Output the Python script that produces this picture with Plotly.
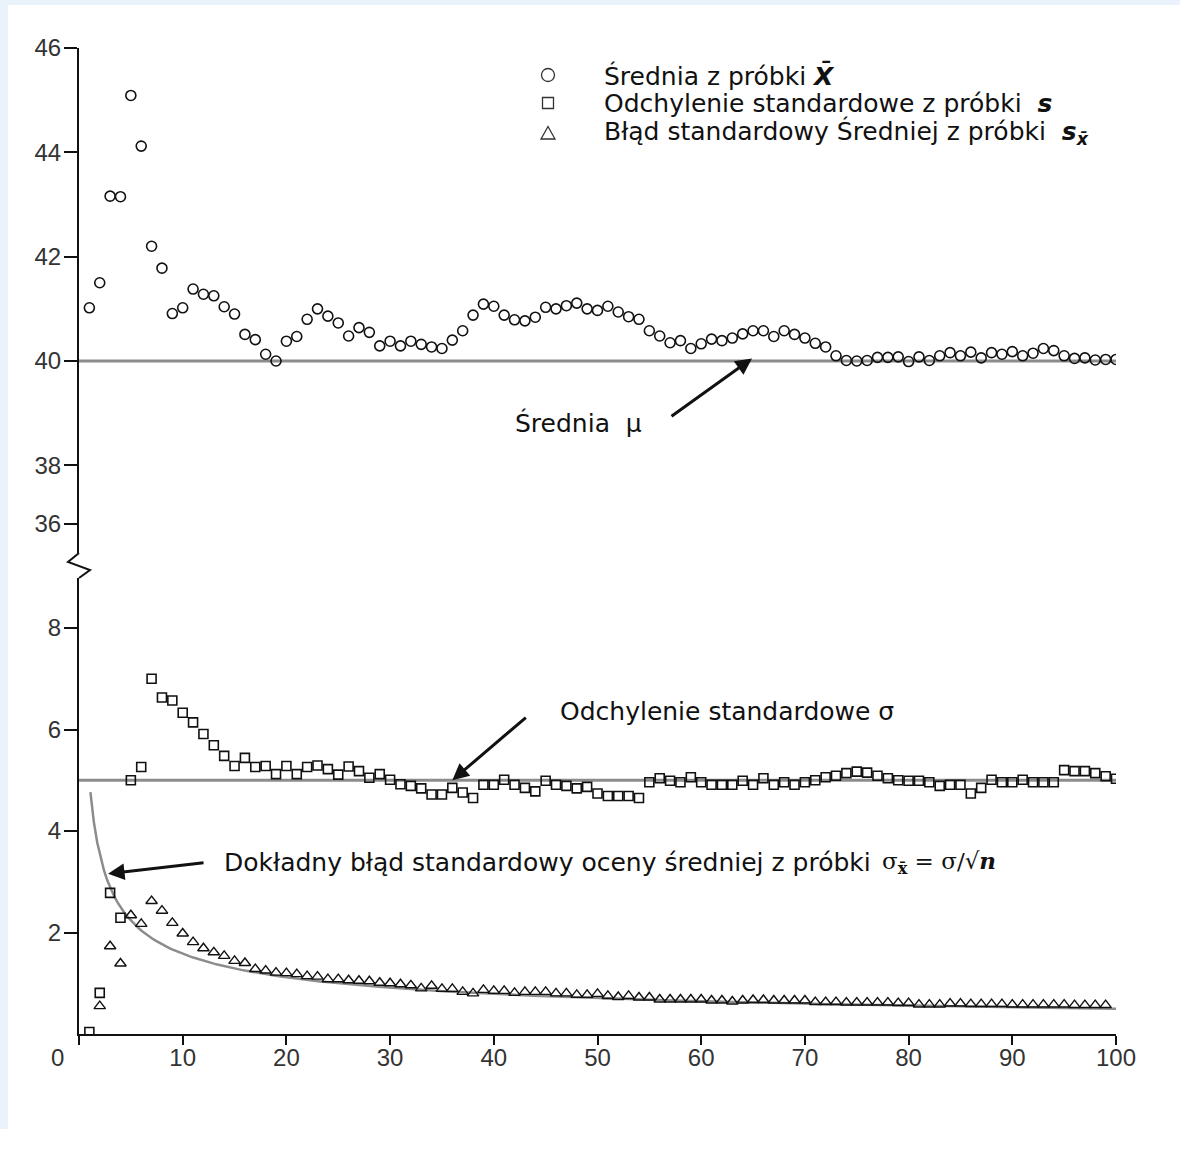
import plotly.graph_objects as go
import numpy as np

# sample size n
n_mean = list(range(1, 101))
n_sd = list(range(1, 101))
n_se = list(range(2, 101))

# sample mean X-bar for n = 1..100
mean_vals = [
    41.02, 41.50, 43.16, 43.15, 45.09, 44.12, 42.20, 41.78, 40.91, 41.02,
    41.38, 41.28, 41.25, 41.04, 40.90, 40.51, 40.41, 40.13, 40.00, 40.38,
    40.47, 40.80, 41.00, 40.86, 40.73, 40.48, 40.64, 40.55, 40.29, 40.38,
    40.29, 40.38, 40.32, 40.27, 40.24, 40.40, 40.58, 40.88, 41.09, 41.05,
    40.88, 40.79, 40.77, 40.84, 41.03, 41.00, 41.06, 41.11, 41.00, 40.97,
    41.05, 40.94, 40.85, 40.80, 40.58, 40.48, 40.35, 40.39, 40.24, 40.33,
    40.42, 40.39, 40.44, 40.52, 40.58, 40.58, 40.47, 40.58, 40.51, 40.44,
    40.34, 40.27, 40.10, 40.01, 40.00, 40.01, 40.07, 40.07, 40.08, 39.99,
    40.08, 40.01, 40.10, 40.16, 40.10, 40.17, 40.06, 40.16, 40.13, 40.18,
    40.10, 40.15, 40.24, 40.20, 40.10, 40.05, 40.06, 40.02, 40.03, 40.03,
]

# sample standard deviation s for n = 1..100
sd_vals = [
    0.04, 0.81, 2.78, 2.29, 5.00, 5.26, 7.00, 6.63, 6.57, 6.33,
    6.14, 5.91, 5.69, 5.48, 5.28, 5.44, 5.26, 5.28, 5.12, 5.28,
    5.12, 5.26, 5.29, 5.22, 5.11, 5.27, 5.18, 5.05, 5.12, 5.01,
    4.92, 4.89, 4.84, 4.72, 4.72, 4.85, 4.76, 4.65, 4.91, 4.91,
    5.01, 4.91, 4.85, 4.78, 4.99, 4.91, 4.89, 4.84, 4.87, 4.74,
    4.69, 4.69, 4.69, 4.65, 4.96, 5.04, 4.99, 4.96, 5.06, 4.96,
    4.91, 4.91, 4.91, 4.99, 4.91, 5.04, 4.91, 4.96, 4.91, 4.96,
    5.00, 5.06, 5.09, 5.14, 5.17, 5.15, 5.09, 5.04, 5.00, 4.99,
    4.99, 4.96, 4.89, 4.91, 4.91, 4.74, 4.85, 5.01, 4.96, 4.96,
    5.01, 4.96, 4.96, 4.96, 5.20, 5.18, 5.18, 5.14, 5.08, 5.03,
]

# standard error of the sample mean for n = 2..100
se_vals = [
    0.55, 1.73, 1.39, 2.34, 2.17, 2.62, 2.43, 2.19, 1.98,
    1.81, 1.69, 1.61, 1.54, 1.44, 1.40, 1.28, 1.25, 1.21, 1.20,
    1.18, 1.14, 1.13, 1.08, 1.08, 1.06, 1.05, 1.04, 1.01, 1.00,
    0.98, 0.96, 0.90, 0.95, 0.89, 0.89, 0.83, 0.80, 0.87, 0.85,
    0.85, 0.81, 0.83, 0.83, 0.83, 0.80, 0.80, 0.77, 0.77, 0.79,
    0.75, 0.73, 0.75, 0.72, 0.72, 0.68, 0.68, 0.68, 0.68, 0.68,
    0.66, 0.66, 0.64, 0.66, 0.67, 0.67, 0.66, 0.66, 0.66, 0.66,
    0.63, 0.63, 0.63, 0.62, 0.62, 0.62, 0.62, 0.62, 0.61, 0.61,
    0.58, 0.58, 0.58, 0.60, 0.60, 0.59, 0.59, 0.59, 0.59, 0.58,
    0.58, 0.58, 0.58, 0.58, 0.58, 0.57, 0.57, 0.57, 0.57,
]

# population parameters
mu = 40.0
sigma = 5.0
ref_x = [0, 100]
n_curve = np.linspace(1.1, 100, 300)
se_exact = sigma / np.sqrt(n_curve)

x_ticks = list(range(0, 101, 10))
x_ticktext = [""] + [str(v) for v in x_ticks[1:]]
upper_tickvals = [36.88, 38, 40, 42, 44, 46]
upper_ticktext = ["36", "38", "40", "42", "44", "46"]
lower_tickvals = [2, 4, 6, 8]

legend_labels = [
    "Średnia z próbki <b><i>X̄</i></b>",
    "Odchylenie standardowe z próbki  <b><i>s</i></b>",
    "Błąd standardowy Średniej z próbki  <b><i>s</i></b><sub><b><i>x̄</i></b></sub>",
]

INK = "#111111"
GREY = "#8c8c8c"
FRAME = "#eaf3fc"
TEXT_FONT = "DejaVu Sans, Verdana, sans-serif"
TICK_FONT = "Liberation Sans Narrow, Liberation Sans, Arial, sans-serif"
TICK_COLOR = "#333333"

W, H = 1181, 1130
L, R, T = 79, 65, 48
PLOT_BOTTOM = 1034
B = H - PLOT_BOTTOM
PW, PH = W - L - R, H - T - B


def px(xp):
    return (xp - L) / PW


def py(yp):
    return (PLOT_BOTTOM - yp) / PH


fig = go.Figure()

# reference lines: mu, sigma and sigma/sqrt(n)
fig.add_trace(go.Scatter(x=ref_x, y=[mu, mu], yaxis="y2", mode="lines",
                         line=dict(color=GREY, width=3), showlegend=False, hoverinfo="skip"))
fig.add_trace(go.Scatter(x=ref_x, y=[sigma, sigma], mode="lines",
                         line=dict(color=GREY, width=3), showlegend=False, hoverinfo="skip"))
fig.add_trace(go.Scatter(x=n_curve, y=se_exact, mode="lines",
                         line=dict(color=GREY, width=2.5), showlegend=False, hoverinfo="skip"))

fig.add_trace(go.Scatter(
    x=n_mean, y=mean_vals, yaxis="y2", mode="markers", name="X̄", showlegend=False,
    marker=dict(symbol="circle-open", size=10, color=INK, line=dict(width=1.6, color=INK)),
))
fig.add_trace(go.Scatter(
    x=n_sd, y=sd_vals, mode="markers", name="s", showlegend=False,
    marker=dict(symbol="square-open", size=9, color=INK, line=dict(width=1.6, color=INK)),
))
fig.add_trace(go.Scatter(
    x=n_se, y=se_vals, mode="markers", name="s_x̄", showlegend=False,
    marker=dict(symbol="triangle-up-open", size=10, color=INK, line=dict(width=1.4, color=INK)),
))

axis_common = dict(showgrid=False, zeroline=False, showline=True, linecolor=INK, linewidth=2,
                   ticks="outside", tickcolor=INK, tickwidth=2, ticklen=13, ticklabelstandoff=-2,
                   tickfont=dict(family=TICK_FONT, size=24, color=TICK_COLOR))

fig.update_layout(
    width=W, height=H,
    margin=dict(l=L, r=R, t=T, b=B),
    paper_bgcolor="white",
    plot_bgcolor="white",
    xaxis=dict(range=[0, 100], domain=[0, 1], anchor="y", tickvals=x_ticks, ticktext=x_ticktext,
               showgrid=False, zeroline=False, showline=True, linecolor=INK, linewidth=2,
               ticks="outside", tickcolor=INK, tickwidth=2, ticklen=9, ticklabelstandoff=-8,
               tickfont=dict(family=TICK_FONT, size=24, color=TICK_COLOR)),
    yaxis=dict(range=[0, (PLOT_BOTTOM - 578) / 50.75], domain=[0, py(578)], anchor="x",
               tickvals=lower_tickvals, **axis_common),
    yaxis2=dict(range=[46 - (553 - T) / 52.17, 46], domain=[py(553), 1], anchor="x",
                tickvals=upper_tickvals, ticktext=upper_ticktext, **axis_common),
    showlegend=False,
)

sym_line = dict(color="#333333", width=1.3)
shapes = [
    # light-blue L-shaped frame along the left and top edges
    dict(type="path", xref="paper", yref="paper",
         path=(f"M {px(0)},{py(0)} L {px(W - 1)},{py(0)} L {px(W - 1)},{py(5)} "
               f"L {px(8)},{py(5)} L {px(8)},{py(H - 1)} L {px(0)},{py(H - 1)} Z"),
         fillcolor=FRAME, line=dict(width=0), layer="below"),
    # axis break mark
    dict(type="path", xref="paper", yref="paper",
         path=f"M {px(79)},{py(553)} L {px(68)},{py(562)} L {px(90)},{py(570)} L {px(79)},{py(578)}",
         line=dict(color=INK, width=2)),
    # legend keys
    dict(type="circle", xref="paper", yref="paper", x0=px(541.5), x1=px(554.5),
         y0=py(81.5), y1=py(68.5), line=sym_line),
    dict(type="rect", xref="paper", yref="paper", x0=px(542.5), x1=px(553.5),
         y0=py(108.5), y1=py(97.5), line=sym_line),
    dict(type="path", xref="paper", yref="paper",
         path=f"M {px(541)},{py(139)} L {px(555)},{py(139)} L {px(548)},{py(126.5)} Z",
         line=sym_line),
]
fig.update_layout(shapes=shapes)

ann_font = dict(family=TEXT_FONT, size=25, color=INK)
annotations = [
    dict(text="0", xref="paper", yref="paper", x=px(57), y=py(1057), showarrow=False,
         font=dict(family=TICK_FONT, size=24, color=TICK_COLOR), xanchor="center", yanchor="middle"),
    dict(text="Średnia  μ", xref="paper", yref="paper", x=px(513), y=py(423), showarrow=False,
         font=ann_font, xanchor="left", yanchor="middle"),
    dict(text="", x=64.9, y=40.05, xref="x", yref="y2", ax=655 - 737, ay=425 - 366,
         showarrow=True, arrowhead=2, arrowsize=1.1, arrowwidth=3, arrowcolor=INK),
    dict(text="Odchylenie standardowe σ", xref="paper", yref="paper", x=px(558), y=py(711),
         showarrow=False, font=ann_font, xanchor="left", yanchor="middle"),
    dict(text="", x=36.0, y=5.0, xref="x", yref="y", ax=527 - 452, ay=716 - 780,
         showarrow=True, arrowhead=2, arrowsize=1.1, arrowwidth=3, arrowcolor=INK),
    dict(text="Dokładny błąd standardowy oceny średniej z próbki", xref="paper", yref="paper",
         x=px(222), y=py(862), showarrow=False, font=ann_font, xanchor="left", yanchor="middle"),
    dict(text="σ<sub><b>x̄</b></sub> = σ/√<b><i>n</i></b>", xref="paper", yref="paper",
         x=px(880), y=py(862), showarrow=False,
         font=dict(family="DejaVu Serif, serif", size=23, color=INK), xanchor="left", yanchor="middle"),
    dict(text="", x=2.8, y=3.16, xref="x", yref="y", ax=205 - 108, ay=862 - 873,
         showarrow=True, arrowhead=2, arrowsize=1.1, arrowwidth=3, arrowcolor=INK),
]
for label, yc in zip(legend_labels, [75, 103, 133]):
    annotations.append(dict(text=label, xref="paper", yref="paper", x=px(602), y=py(yc),
                            showarrow=False, font=ann_font, xanchor="left", yanchor="middle"))
fig.update_layout(annotations=annotations)

fig.write_html("out.html")
